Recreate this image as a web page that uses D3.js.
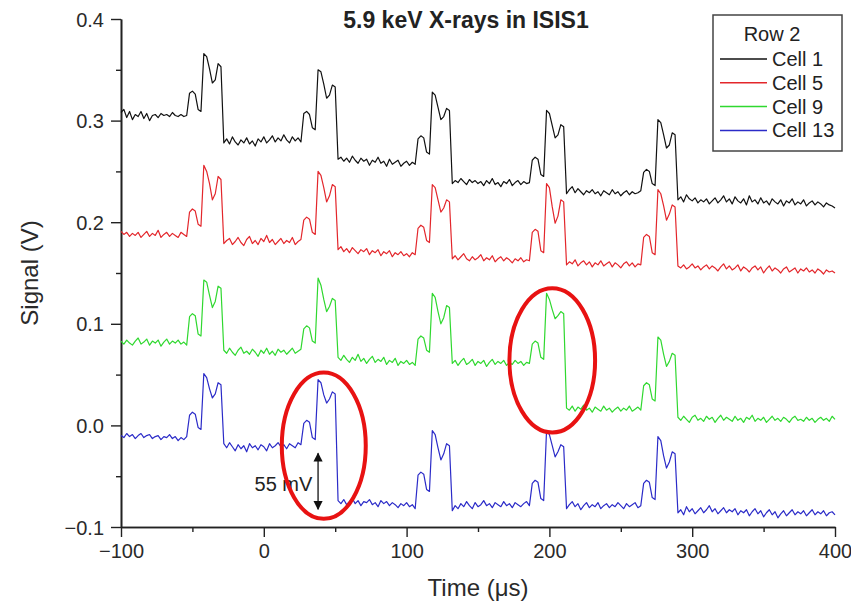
<!DOCTYPE html>
<html>
<head>
<meta charset="utf-8">
<script src="https://cdn.jsdelivr.net/npm/d3@7"></script>
<style>
  html, body { margin: 0; padding: 0; background: #fff; overflow: hidden; }
  svg { display: block; font-family: "Liberation Sans", Arial, sans-serif; }
</style>
<script>
// sampling grid of the scope traces (µs)
const tStart = -100;
const tStep = 2;

// signal values in mV, one sample every 2 µs from -100 to 400 µs
const cell1 = [
  308, 311, 303, 309, 301, 306, 304, 309, 302, 307, 300, 305, 306, 303, 307, 305, 306, 304, 308, 305, 304, 306, 304, 305,
  327, 329, 326, 311, 309, 366, 363, 351, 337, 340, 356, 353,
  278, 282, 277, 284, 279, 276, 281, 278, 283, 277, 280, 275, 282, 279, 284, 278, 281, 285, 279, 283, 280, 286, 281, 278, 284, 280, 283, 279,
  307, 309, 306, 293, 291, 350, 348, 336, 322, 325, 335, 333,
  262, 264, 260, 263, 259, 265, 261, 258, 263, 260, 262, 256, 261, 259, 264, 258, 260, 255, 262, 257, 259, 261, 255, 258, 260, 256, 259, 257,
  282, 285, 283, 269, 267, 328, 325, 313, 301, 304, 312, 310,
  238, 241, 239, 243, 240, 237, 242, 239, 241, 238, 240, 236, 241, 238, 243, 237, 239, 235, 240, 238, 242, 236, 239, 241, 237, 240, 238, 239,
  261, 264, 262, 247, 245, 310, 307, 295, 283, 286, 296, 294,
  228, 232, 235, 229, 233, 230, 227, 231, 229, 232, 228, 230, 226, 231, 229, 227, 232, 228, 230, 226, 229, 231, 227, 230, 228, 229, 231,
  249, 252, 250, 238, 236, 301, 298, 286, 273, 276, 288, 286,
  222, 225, 220, 227, 223, 221, 224, 219, 222, 220, 223, 218, 221, 224, 219, 222, 226, 220, 223, 218, 225, 221, 219, 223, 217, 226, 220, 222,
  218, 224, 219, 221, 217, 223, 220, 218, 222, 216, 221, 219, 223, 217, 220, 218, 222, 216, 219, 221, 217, 220, 218, 215, 219, 217, 216, 214
];

const cell5 = [
  191, 188, 190, 186, 189, 187, 190, 185, 188, 191, 186, 189, 187, 192, 185, 188, 190, 186, 189, 187, 185, 190, 188, 186,
  210, 213, 211, 198, 196, 256, 250, 238, 222, 228, 245, 242,
  179, 182, 184, 178, 181, 185, 180, 177, 183, 186, 179, 182, 178, 184, 181, 187, 180, 183, 178, 181, 184, 179, 182, 180, 185, 178, 181, 183,
  202, 205, 203, 190, 188, 250, 246, 234, 220, 226, 237, 235,
  173, 176, 171, 174, 170, 175, 172, 169, 173, 171, 174, 168, 172, 170, 173, 167, 171, 169, 172, 166, 170, 168, 171, 167, 169, 166, 170, 168,
  194, 197, 195, 182, 180, 237, 234, 222, 210, 214, 222, 220,
  164, 167, 163, 166, 169, 164, 162, 166, 163, 165, 168, 162, 165, 163, 167, 161, 164, 166, 162, 165, 163, 160, 164, 162, 165, 161, 163, 162,
  190, 193, 191, 172, 170, 238, 234, 215, 199, 206, 222, 220,
  158, 161, 159, 163, 157, 160, 162, 158, 161, 156, 160, 158, 162, 157, 159, 161, 156, 160, 158, 155, 159, 161, 157, 160, 156, 159, 158,
  185, 188, 186, 170, 168, 232, 228, 216, 202, 208, 217, 215,
  157, 155, 158, 154, 156, 159, 155, 157, 153, 156, 158, 154, 157, 155, 152, 156, 159, 154, 157, 153, 155, 158, 152, 156, 154, 151, 155, 157,
  153, 156, 150, 154, 157, 152, 155, 153, 150, 154, 156, 151, 153, 155, 150, 154, 152, 155, 151, 153, 150, 154, 152, 149, 153, 151, 152, 150
];

const cell9 = [
  83, 80, 84, 81, 79, 83, 86, 80, 82, 85, 79, 83, 81, 84, 78, 82, 85, 80, 83, 81, 84, 80, 82, 79,
  107, 110, 108, 90, 88, 143, 141, 128, 116, 122, 137, 135,
  74, 71, 76, 72, 69, 74, 77, 71, 73, 70, 75, 72, 68, 74, 71, 76, 70, 73, 69, 75, 72, 74, 70, 73, 76, 71, 73, 75,
  95, 98, 96, 83, 81, 145, 138, 124, 112, 117, 125, 123,
  67, 64, 69, 65, 62, 67, 64, 70, 63, 66, 61, 65, 68, 62, 65, 63, 67, 60, 64, 62, 66, 59, 63, 61, 64, 60, 62, 59,
  85, 88, 86, 74, 72, 130, 126, 112, 100, 106, 118, 116,
  61, 64, 59, 63, 66, 60, 62, 65, 59, 63, 61, 64, 58, 62, 65, 60, 63, 61, 64, 59, 62, 60, 64, 61, 63, 59, 62, 61,
  80, 83, 81, 67, 65, 130, 124, 114, 105, 108, 112, 110,
  17, 15, 19, 14, 18, 16, 20, 15, 17, 13, 18, 16, 14, 19, 15, 17, 13, 16, 18, 14, 17, 15, 19, 14, 16, 18, 15,
  39, 42, 40, 26, 24, 87, 84, 70, 58, 63, 71, 69,
  8, 5, 9, 6, 3, 8, 10, 5, 7, 4, 9, 6, 8, 3, 7, 10, 5, 8, 6, 4, 9, 5, 7, 3, 8, 6, 10, 4,
  7, 5, 8, 3, 6, 9, 5, 7, 4, 8, 6, 3, 7, 9, 5, 6, 4, 8, 5, 7, 3, 6, 8, 5, 7, 4, 9, 6
];

const cell13 = [
  -10, -12, -8, -11, -9, -13, -10, -8, -12, -10, -9, -13, -11, -10, -14, -11, -12, -9, -13, -11, -15, -12, -14, -11,
  10, 13, 11, -2, -4, 51, 47, 36, 27, 31, 42, 40,
  -18, -22, -17, -21, -25, -19, -23, -20, -26, -18, -22, -20, -24, -19, -21, -25, -18, -22, -20, -17, -21, -19, -23, -18, -20, -22, -17, -19,
  2, 5, 3, -12, -14, 45, 42, 30, 22, 26, 33, 31,
  -74, -77, -73, -78, -75, -72, -77, -74, -79, -75, -76, -73, -78, -76, -80, -74, -77, -75, -79, -76, -78, -81, -77, -79, -76, -80, -78, -82,
  -49, -46, -48, -63, -65, -5, -9, -22, -34, -28, -18, -20,
  -84, -79, -82, -77, -80, -75, -79, -82, -76, -80, -78, -74, -79, -77, -81, -76, -78, -80, -75, -79, -77, -81, -76, -78, -80, -77, -75, -79,
  -57, -54, -56, -72, -74, -5, -9, -20, -31, -26, -19, -21,
  -82, -78, -75, -80, -77, -83, -79, -76, -81, -78, -80, -76, -82, -79, -77, -81, -78, -80, -76, -79, -82, -77, -80, -78, -76, -81, -79,
  -57, -54, -56, -71, -73, -11, -15, -30, -42, -36, -26, -28,
  -86, -83, -88, -80, -85, -82, -87, -84, -81, -86, -83, -79, -85, -82, -87, -84, -81, -86, -83, -85, -82, -88, -84, -86, -83, -89, -85, -82,
  -87, -84, -90, -86, -83, -88, -85, -91, -87, -84, -89, -86, -83, -88, -85, -87, -84, -89, -86, -83, -88, -85, -87, -84, -89, -86, -85, -88
];

const seriesNames = ['Cell 1', 'Cell 5', 'Cell 9', 'Cell 13'];
const seriesColors = ['#111111', '#e3262b', '#2fd82f', '#2b2bc8'];

const xTicks = [-100, 0, 100, 200, 300, 400];
const xMinor = [-50, 50, 150, 250, 350];
const yTicks = [-0.1, 0.0, 0.1, 0.2, 0.3, 0.4];
const yMinor = [-0.05, 0.05, 0.15, 0.25, 0.35];

const margin = {
    top: 19,
    right: 16,
    bottom: 79,
    left: 121
};

const drawChart = () => {

    const svg = d3.select('#chart');
    const width = +svg.attr('width');
    const height = +svg.attr('height');
    const innerWidth = width - margin.left - margin.right;
    const innerHeight = height - margin.top - margin.bottom;

    const g = svg.append('g')
        .attr('transform', `translate(${margin.left}, ${margin.top})`);

    const x = d3.scaleLinear()
        .domain([-100, 400])
        .range([0, innerWidth]);

    const y = d3.scaleLinear()
        .domain([-0.1, 0.4])
        .range([innerHeight, 0]);

    // axes: major + minor ticks, outward
    const axisColor = '#222';

    const styleAxis = (sel) => {
        sel.select('.domain').attr('stroke', axisColor).attr('stroke-width', 1.6);
        sel.selectAll('.tick line').attr('stroke', axisColor).attr('stroke-width', 1.4);
        sel.selectAll('.tick text')
            .attr('fill', '#2a2a2a')
            .style('font-size', '20px');
    };

    // minor ticks carry no labels
    const dropText = (sel) => sel.selectAll('text').remove();

    g.append('g')
        .attr('transform', `translate(0, ${innerHeight})`)
        .call(d3.axisBottom(x).tickValues(xMinor).tickSize(5).tickSizeOuter(0))
        .call(styleAxis)
        .call(dropText);

    g.append('g')
        .attr('transform', `translate(0, ${innerHeight})`)
        .call(d3.axisBottom(x).tickValues(xTicks).tickSize(10).tickPadding(7).tickSizeOuter(0))
        .call(styleAxis)
        .call(sel => sel.selectAll('.tick text').attr('dy', 14));

    g.append('g')
        .call(d3.axisLeft(y).tickValues(yMinor).tickSize(5).tickSizeOuter(0))
        .call(styleAxis)
        .call(dropText);

    g.append('g')
        .call(d3.axisLeft(y).tickValues(yTicks).tickSize(10).tickPadding(7).tickFormat(d3.format('.1f')).tickSizeOuter(0))
        .call(styleAxis)
        .call(sel => sel.selectAll('.tick text').attr('dy', 7));

    // traces
    const line = d3.line()
        .x((d, i) => x(tStart + i * tStep))
        .y(d => y(d / 1000));

    [cell1, cell5, cell9, cell13].forEach((vals, k) => {
        g.append('path')
            .datum(vals)
            .attr('fill', 'none')
            .attr('stroke', seriesColors[k])
            .attr('stroke-width', 1.2)
            .attr('stroke-linejoin', 'round')
            .attr('d', line);
    });

    // title and axis labels
    svg.append('text')
        .attr('x', 466)
        .attr('y', 28)
        .attr('text-anchor', 'middle')
        .style('font-size', '23px')
        .style('font-weight', 'bold')
        .attr('fill', '#222')
        .text('5.9 keV X-rays in ISIS1');

    svg.append('text')
        .attr('x', margin.left + innerWidth / 2)
        .attr('y', 596)
        .attr('text-anchor', 'middle')
        .style('font-size', '24px')
        .attr('fill', '#2a2a2a')
        .text('Time (\u03bcs)');

    svg.append('text')
        .attr('transform', `translate(38, ${margin.top + innerHeight / 2}) rotate(-90)`)
        .attr('text-anchor', 'middle')
        .style('font-size', '24px')
        .attr('fill', '#2a2a2a')
        .text('Signal (V)');

    // legend
    const legend = svg.append('g').attr('transform', 'translate(713, 15)');

    legend.append('rect')
        .attr('width', 129)
        .attr('height', 136)
        .attr('fill', '#fff')
        .attr('stroke', '#444')
        .attr('stroke-width', 1.5);

    legend.append('text')
        .attr('x', 59)
        .attr('y', 26)
        .attr('text-anchor', 'middle')
        .style('font-size', '20px')
        .attr('fill', '#222')
        .text('Row 2');

    seriesNames.forEach((name, k) => {
        const ly = 44 + k * 23.8;
        legend.append('line')
            .attr('x1', 7).attr('x2', 54)
            .attr('y1', ly).attr('y2', ly)
            .attr('stroke', seriesColors[k])
            .attr('stroke-width', 1.5);
        legend.append('text')
            .attr('x', 59)
            .attr('y', ly + 7)
            .style('font-size', '20px')
            .attr('fill', '#222')
            .text(name);
    });

    // annotations: 55 mV step and the two circled pulses
    const defs = svg.append('defs');
    defs.append('marker')
        .attr('id', 'head')
        .attr('viewBox', '0 0 10 10')
        .attr('refX', 9).attr('refY', 5)
        .attr('markerWidth', 7).attr('markerHeight', 9)
        .attr('orient', 'auto-start-reverse')
        .append('path')
        .attr('d', 'M0,0 L10,5 L0,10 z')
        .attr('fill', '#111');

    g.append('line')
        .attr('x1', x(38)).attr('x2', x(38))
        .attr('y1', y(-0.0275)).attr('y2', y(-0.0825))
        .attr('stroke', '#111')
        .attr('stroke-width', 1.3)
        .attr('marker-start', 'url(#head)')
        .attr('marker-end', 'url(#head)');

    g.append('text')
        .attr('x', x(34))
        .attr('y', y(-0.058) + 7)
        .attr('text-anchor', 'end')
        .style('font-size', '20px')
        .attr('fill', '#222')
        .text('55 mV');

    const rings = [
        { t: 42, v: -0.020, rt: 29.4, rv: 0.072 },
        { t: 202, v: 0.064, rt: 30, rv: 0.071 }
    ];

    g.selectAll('.ring')
        .data(rings)
        .enter()
        .append('ellipse')
        .attr('class', 'ring')
        .attr('cx', d => x(d.t))
        .attr('cy', d => y(d.v))
        .attr('rx', d => x(d.rt) - x(0))
        .attr('ry', d => y(0) - y(d.rv))
        .attr('fill', 'none')
        .attr('stroke', '#e81212')
        .attr('stroke-width', 4);
};

document.addEventListener('DOMContentLoaded', drawChart);
</script>
</head>
<body>
<svg id="chart" width="851" height="606"></svg>
</body>
</html>
